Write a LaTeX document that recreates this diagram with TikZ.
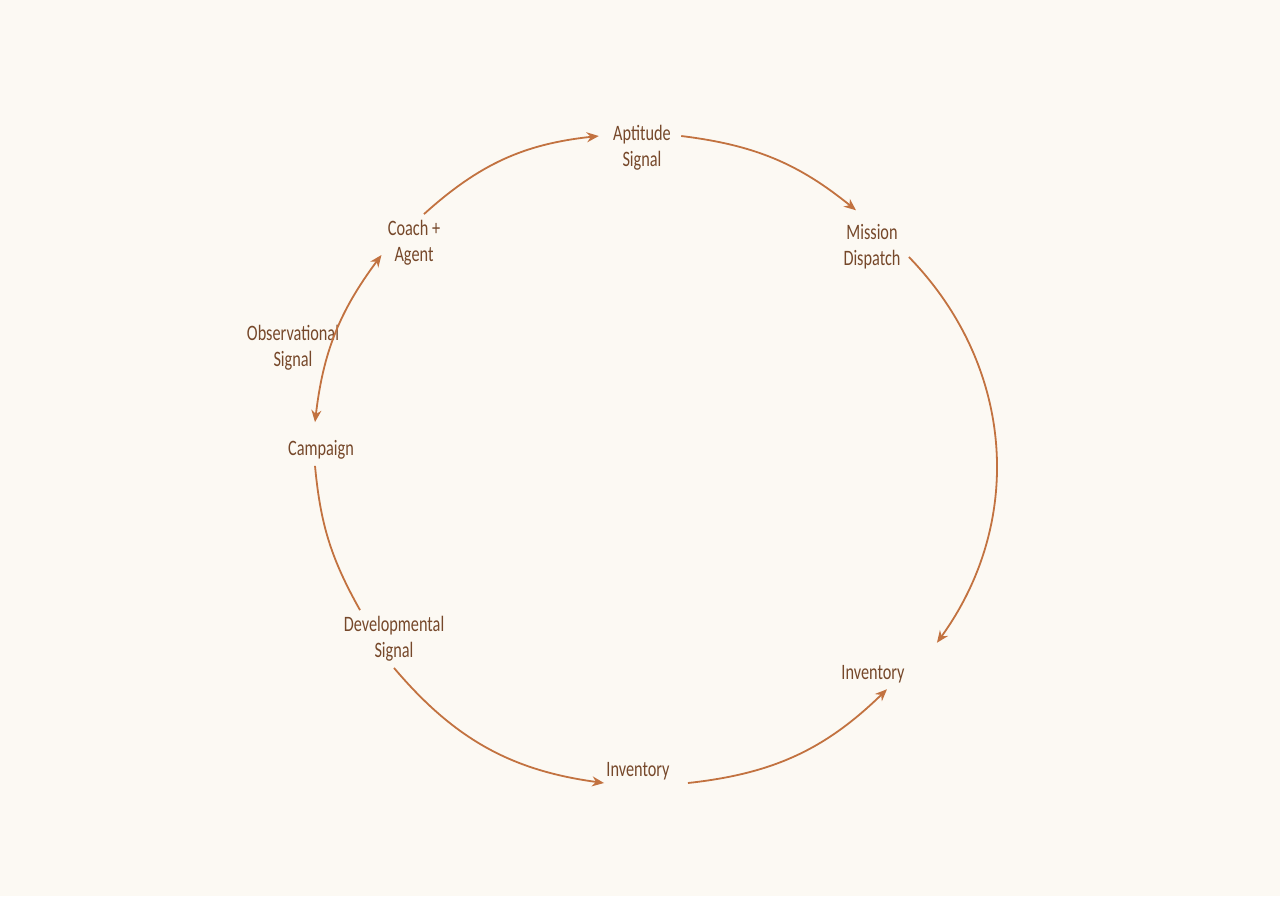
\documentclass[tikz,border=0pt]{standalone}
\usepackage{fontspec}
\setmainfont[FakeStretch=0.74]{Carlito}
\usetikzlibrary{arrows.meta}

\definecolor{paper}{RGB}{252,249,243}
\definecolor{loopline}{RGB}{194,114,64}
\definecolor{looptext}{RGB}{118,72,42}

\tikzset{
    stage/.style={text=looptext, align=center, inner sep=3pt,
        font=\fontsize{11}{13}\selectfont},
    flow/.style={draw=loopline, line width=0.9pt,
        -{Stealth[length=6pt,width=5pt]}},
    plain/.style={draw=loopline, line width=0.9pt},
    both/.style={draw=loopline, line width=0.9pt,
        {Stealth[length=6pt,width=5pt]}-{Stealth[length=6pt,width=5pt]}}
}

\begin{document}
\begin{tikzpicture}[x=0.5pt,y=-0.5pt]
    \fill[paper] (0,0) rectangle (1280,896);
    \useasboundingbox (0,0) rectangle (1280,896);

    % stages round the loop
    \node[stage] (apt)   at (642,148) {Aptitude\\Signal};
    \node[stage] (mis)   at (872,247) {Mission\\Dispatch};
    \node[stage] (invR)  at (873,674) {Inventory};
    \node[stage] (invB)  at (638,771) {Inventory};
    \node[stage] (dev)   at (394,639) {Developmental\\Signal};
    \node[stage] (camp)  at (321,450) {Campaign};
    \node[stage] (coach) at (414,243) {Coach +\\Agent};
    \node[stage] (obs)   at (293,348) {Observational\\Signal};

    % connectors
    \draw[flow] ([xshift=5pt]coach.north) to[bend left=18] ([shift={(-4pt,6pt)}]apt.west);
    \draw[flow] ([shift={(2pt,6pt)}]apt.east) to[bend left=16] ([shift={(-8pt,4pt)}]mis.north);
    \draw[flow] ([shift={(1pt,-5pt)}]mis.east) to[bend left=40] ([shift={(13pt,8pt)}]invR.north east);
    \draw[flow] ([shift={(6pt,-6pt)}]invB.east) to[bend right=19] ([xshift=7pt]invR.south);
    \draw[flow] (dev.south) to[bend right=21] ([shift={(2pt,-6pt)}]invB.west);
    \draw[plain] ([xshift=-3pt]camp.south) to[bend right=12] ([xshift=-17pt]dev.north);
    \draw[both] ([shift={(-3pt,6pt)}]camp.north) to[bend left=15] ([yshift=-6pt]coach.west);
\end{tikzpicture}
\end{document}
